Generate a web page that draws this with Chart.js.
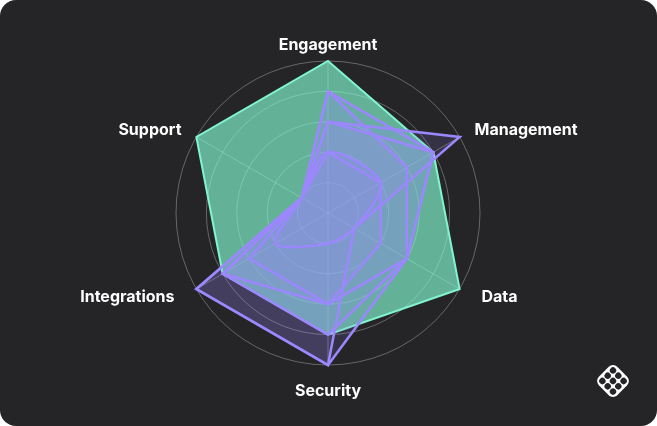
<!DOCTYPE html>
<html>
<head>
<meta charset="utf-8">
<script src="https://cdn.jsdelivr.net/npm/chart.js@4"></script>
<style>
  html, body { margin: 0; padding: 0; background: #ffffff; }
  .card {
    position: relative;
    width: 657px;
    height: 426px;
    background: #252527;
    border-radius: 16px;
    overflow: hidden;
  }
  #radar { position: absolute; left: 0; top: 0; }
  .logo { position: absolute; left: 591px; top: 359px; width: 44px; height: 44px; }
</style>
</head>
<body>
<div class="card">
  <canvas id="radar" width="657" height="426"></canvas>
  <svg class="logo" viewBox="-22 -22 44 44">
    <g transform="rotate(45)">
      <rect x="-13" y="-13" width="26" height="26" rx="6" fill="#ffffff"/>
      <circle cx="-7.5" cy="-7.5" r="3.2" fill="#252527"/>
      <circle cx="0" cy="-7.5" r="3.2" fill="#252527"/>
      <circle cx="7.5" cy="-7.5" r="3.2" fill="#252527"/>
      <circle cx="-7.5" cy="0" r="3.2" fill="#252527"/>
      <circle cx="0" cy="0" r="3.2" fill="#252527"/>
      <circle cx="7.5" cy="0" r="3.2" fill="#252527"/>
      <circle cx="-7.5" cy="7.5" r="3.2" fill="#252527"/>
      <circle cx="0" cy="7.5" r="3.2" fill="#252527"/>
      <circle cx="7.5" cy="7.5" r="3.2" fill="#252527"/>
    </g>
  </svg>
</div>
<script>
const categorias = ['Engagement', 'Management', 'Data', 'Security', 'Integrations', 'Support'];
const serieVerde = [100, 80, 100, 80, 80, 100];
const serieRoxa1 = [80, 80, 60, 80, 80, 20];
const serieRoxa2 = [80, 60, 60, 100, 100, 20];
const serieRoxa3 = [60, 100, 20, 100, 100, 20];
const serieRoxa4 = [60, 80, 60, 60, 80, 20];
const serieRoxa5 = [40, 40, 40, 60, 60, 20];
const serieRoxa6 = [40, 40, 20, 20, 40, 20];
const ticksEscala = [0, 20, 40, 60, 80, 100];

const roxo = '#9d87ff';
const roxoFundo = 'rgba(157, 135, 255, 0.14)';

function serieRoxa(dados, tensao) {
    return {
        data: dados,
        borderColor: roxo,
        backgroundColor: roxoFundo,
        borderWidth: 2.5,
        fill: true,
        tension: tensao || 0,
        order: 1
    };
}

// rotulos desenhados a partir das posicoes da propria escala
const rotulosPlugin = {
    id: 'rotulos',
    afterDraw(chart) {
        const escala = chart.scales.r;
        const ctx = chart.ctx;
        ctx.save();
        ctx.font = 'bold 16px Inter';
        ctx.fillStyle = '#ffffff';
        ctx.textBaseline = 'middle';
        categorias.forEach((texto, i) => {
            const pos = escala.getPointPosition(i, escala.drawingArea + 16);
            const dx = pos.x - escala.xCenter;
            const dy = pos.y - escala.yCenter;
            let x = pos.x;
            let y = pos.y;
            if (Math.abs(dx) < 1) {
                ctx.textAlign = 'center';
                y += dy < 0 ? 0 : 10;
            } else {
                ctx.textAlign = dx > 0 ? 'left' : 'right';
                x += Math.sign(dx) * (dy > 0 ? 8 : 1);
                y += dy < 0 ? 1.5 : 0;
            }
            ctx.fillText(texto, x, y);
        });
        ctx.restore();
    }
};

new Chart(document.getElementById('radar'), {
    type: 'radar',
    data: {
        labels: categorias,
        datasets: [
            serieRoxa(serieRoxa1),
            serieRoxa(serieRoxa2),
            serieRoxa(serieRoxa3),
            serieRoxa(serieRoxa4),
            serieRoxa(serieRoxa5),
            serieRoxa(serieRoxa6, 0.3),
            {
                data: serieVerde,
                borderColor: '#80f5cf',
                backgroundColor: 'rgba(132, 254, 213, 0.65)',
                borderWidth: 2,
                fill: true,
                order: 2
            }
        ]
    },
    options: {
        responsive: false,
        animation: false,
        layout: {
            padding: { top: 61, bottom: 60, left: 0, right: 0 }
        },
        elements: {
            point: { radius: 0, hoverRadius: 0 }
        },
        plugins: {
            legend: { display: false },
            tooltip: { enabled: false }
        },
        scales: {
            r: {
                min: ticksEscala[0],
                max: ticksEscala[ticksEscala.length - 1],
                ticks: {
                    stepSize: ticksEscala[1] - ticksEscala[0],
                    display: false
                },
                grid: {
                    circular: true,
                    color: 'rgba(255, 255, 255, 0.3)',
                    lineWidth: 1
                },
                angleLines: {
                    color: 'rgba(255, 255, 255, 0.3)',
                    lineWidth: 1
                },
                pointLabels: {
                    display: false
                }
            }
        }
    },
    plugins: [rotulosPlugin]
});
</script>
</body>
</html>
